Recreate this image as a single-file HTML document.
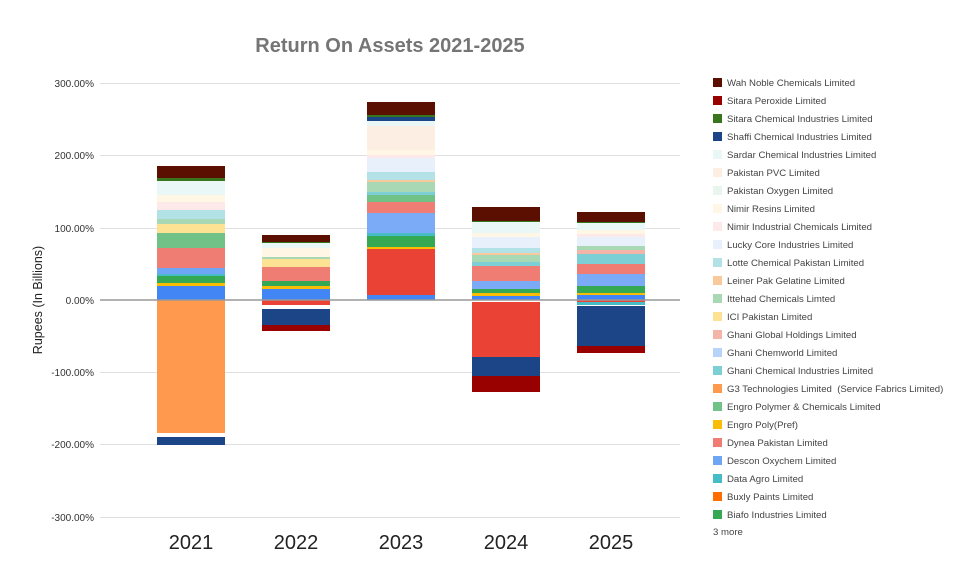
<!DOCTYPE html><html><head><meta charset="utf-8"><style>body{margin:0;background:#fff}svg{display:block}</style></head><body>
<svg width="975" height="581" xmlns="http://www.w3.org/2000/svg" font-family="Liberation Sans, Arial, sans-serif">
<text x="390" y="52" font-size="20" font-weight="bold" fill="#757575" text-anchor="middle">Return On Assets 2021-2025</text>
<g stroke="#e0e0e0" stroke-width="1">
<line x1="100" x2="680" y1="83.5" y2="83.5"/><line x1="100" x2="680" y1="155.5" y2="155.5"/><line x1="100" x2="680" y1="228.5" y2="228.5"/><line x1="100" x2="680" y1="372.5" y2="372.5"/><line x1="100" x2="680" y1="444.5" y2="444.5"/><line x1="100" x2="680" y1="517.5" y2="517.5"/></g>
<g font-size="10" fill="#333" text-anchor="end">
<text x="94" y="87">300.00%</text><text x="94" y="159">200.00%</text><text x="94" y="232">100.00%</text><text x="94" y="304">0.00%</text><text x="94" y="376">-100.00%</text><text x="94" y="448">-200.00%</text><text x="94" y="521">-300.00%</text></g>
<text transform="translate(42,300) rotate(-90)" font-size="12.5" fill="#222" text-anchor="middle">Rupees (In Billions)</text>
<g font-size="20" fill="#222" text-anchor="middle">
<text x="191" y="549">2021</text><text x="296" y="549">2022</text><text x="401" y="549">2023</text><text x="506" y="549">2024</text><text x="611" y="549">2025</text></g>
<g id="bars">
<g transform="translate(157,0)">
<rect y="166" height="12" width="68" fill="#5b0f00"/><rect y="178" height="3" width="68" fill="#38761d"/><rect y="181" height="14" width="68" fill="#eaf7f7"/><rect y="195" height="7" width="68" fill="#fff6e6"/><rect y="202" height="8" width="68" fill="#fde8ea"/><rect y="210" height="9" width="68" fill="#b3e2e6"/><rect y="219" height="5" width="68" fill="#a8d8b4"/><rect y="224" height="9" width="68" fill="#fde293"/><rect y="233" height="15" width="68" fill="#71c287"/><rect y="248" height="20" width="68" fill="#ef7d73"/><rect y="268" height="6" width="68" fill="#6fa5f5"/><rect y="274" height="2" width="68" fill="#46bdc6"/><rect y="276" height="7" width="68" fill="#34a853"/><rect y="283" height="3" width="68" fill="#fbbc04"/><rect y="286" height="14" width="68" fill="#4285f4"/><rect y="300" height="133" width="68" fill="#ff994d"/><rect y="437" height="8" width="68" fill="#1c4587"/></g>
<g transform="translate(262,0)">
<rect y="235" height="7" width="68" fill="#5b0f00"/><rect y="242" height="1" width="68" fill="#38761d"/><rect y="243" height="5" width="68" fill="#eaf7f7"/><rect y="248" height="9" width="68" fill="#fff6e6"/><rect y="257" height="2" width="68" fill="#a8d8b4"/><rect y="259" height="8" width="68" fill="#fde293"/><rect y="267" height="14" width="68" fill="#ef7d73"/><rect y="281" height="5" width="68" fill="#34a853"/><rect y="286" height="3" width="68" fill="#fbbc04"/><rect y="289" height="11" width="68" fill="#4285f4"/><rect y="300" height="5" width="68" fill="#ea4335"/><rect y="309" height="16" width="68" fill="#1c4587"/><rect y="325" height="6" width="68" fill="#990000"/></g>
<g transform="translate(367,0)">
<rect y="102" height="13" width="68" fill="#5b0f00"/><rect y="115" height="2" width="68" fill="#38761d"/><rect y="117" height="4" width="68" fill="#1c4587"/><rect y="121" height="5" width="68" fill="#eaf7f7"/><rect y="126" height="24" width="68" fill="#fdeee4"/><rect y="150" height="5" width="68" fill="#fff6e6"/><rect y="155" height="3" width="68" fill="#fde8ea"/><rect y="158" height="14" width="68" fill="#e8f0fc"/><rect y="172" height="8" width="68" fill="#b3e2e6"/><rect y="180" height="2" width="68" fill="#f9c89b"/><rect y="182" height="10" width="68" fill="#a8d8b4"/><rect y="192" height="3" width="68" fill="#7dcfd6"/><rect y="195" height="7" width="68" fill="#71c287"/><rect y="202" height="11" width="68" fill="#ef7d73"/><rect y="213" height="20" width="68" fill="#7baaf7"/><rect y="233" height="3" width="68" fill="#46bdc6"/><rect y="236" height="11" width="68" fill="#34a853"/><rect y="247" height="2" width="68" fill="#fbbc04"/><rect y="249" height="46" width="68" fill="#ea4335"/><rect y="295" height="5" width="68" fill="#4285f4"/></g>
<g transform="translate(472,0)">
<rect y="207" height="14" width="68" fill="#5b0f00"/><rect y="221" height="1" width="68" fill="#38761d"/><rect y="222" height="11" width="68" fill="#eaf7f7"/><rect y="233" height="4" width="68" fill="#fff6e6"/><rect y="237" height="11" width="68" fill="#e8f0fc"/><rect y="248" height="5" width="68" fill="#b3e2e6"/><rect y="253" height="2" width="68" fill="#f9c89b"/><rect y="255" height="7" width="68" fill="#a8d8b4"/><rect y="262" height="4" width="68" fill="#7dcfd6"/><rect y="266" height="15" width="68" fill="#ef7d73"/><rect y="281" height="8" width="68" fill="#7baaf7"/><rect y="289" height="4" width="68" fill="#34a853"/><rect y="293" height="3" width="68" fill="#fbbc04"/><rect y="296" height="4" width="68" fill="#4285f4"/><rect y="302" height="55" width="68" fill="#ea4335"/><rect y="357" height="19" width="68" fill="#1c4587"/><rect y="376" height="16" width="68" fill="#990000"/></g>
<g transform="translate(577,0)">
<rect y="212" height="10" width="68" fill="#5b0f00"/><rect y="222" height="1" width="68" fill="#38761d"/><rect y="223" height="7" width="68" fill="#eaf7f7"/><rect y="230" height="4" width="68" fill="#fff6e6"/><rect y="234" height="3" width="68" fill="#fde8ea"/><rect y="237" height="9" width="68" fill="#e8f0fc"/><rect y="246" height="4" width="68" fill="#a8d8b4"/><rect y="250" height="4" width="68" fill="#f4b4a8"/><rect y="254" height="10" width="68" fill="#7dcfd6"/><rect y="264" height="10" width="68" fill="#ef7d73"/><rect y="274" height="12" width="68" fill="#7baaf7"/><rect y="286" height="7" width="68" fill="#34a853"/><rect y="293" height="2" width="68" fill="#fbbc04"/><rect y="295" height="5" width="68" fill="#4285f4"/><rect y="300" height="2" width="68" fill="#ea4335"/><rect y="302" height="3" width="68" fill="#46bdc6"/><rect y="306" height="40" width="68" fill="#1c4587"/><rect y="346" height="7" width="68" fill="#990000"/></g>
</g>
<line x1="100" x2="680" y1="300" y2="300" stroke="#999" stroke-width="1.5"/>
<g font-size="9.6" fill="#444">
<rect x="713" y="78" width="9" height="9" fill="#5b0f00"/><text x="727" y="86">Wah Noble Chemicals Limited</text>
<rect x="713" y="96" width="9" height="9" fill="#990000"/><text x="727" y="104">Sitara Peroxide Limited</text>
<rect x="713" y="114" width="9" height="9" fill="#38761d"/><text x="727" y="122">Sitara Chemical Industries Limited</text>
<rect x="713" y="132" width="9" height="9" fill="#1c4587"/><text x="727" y="140">Shaffi Chemical Industries Limited</text>
<rect x="713" y="150" width="9" height="9" fill="#eaf7f7"/><text x="727" y="158">Sardar Chemical Industries Limited</text>
<rect x="713" y="168" width="9" height="9" fill="#fdeee4"/><text x="727" y="176">Pakistan PVC Limited</text>
<rect x="713" y="186" width="9" height="9" fill="#e8f6ee"/><text x="727" y="194">Pakistan Oxygen Limited</text>
<rect x="713" y="204" width="9" height="9" fill="#fff6e6"/><text x="727" y="212">Nimir Resins Limited</text>
<rect x="713" y="222" width="9" height="9" fill="#fde8ea"/><text x="727" y="230">Nimir Industrial Chemicals Limited</text>
<rect x="713" y="240" width="9" height="9" fill="#e8f0fc"/><text x="727" y="248">Lucky Core Industries Limited</text>
<rect x="713" y="258" width="9" height="9" fill="#b3e2e6"/><text x="727" y="266">Lotte Chemical Pakistan Limited</text>
<rect x="713" y="276" width="9" height="9" fill="#f9c89b"/><text x="727" y="284">Leiner Pak Gelatine Limited</text>
<rect x="713" y="294" width="9" height="9" fill="#a8d8b4"/><text x="727" y="302">Ittehad Chemicals Limted</text>
<rect x="713" y="312" width="9" height="9" fill="#fde293"/><text x="727" y="320">ICI Pakistan Limited</text>
<rect x="713" y="330" width="9" height="9" fill="#f4b4a8"/><text x="727" y="338">Ghani Global Holdings Limited</text>
<rect x="713" y="348" width="9" height="9" fill="#b8d3fa"/><text x="727" y="356">Ghani Chemworld Limited</text>
<rect x="713" y="366" width="9" height="9" fill="#7dcfd6"/><text x="727" y="374">Ghani Chemical Industries Limited</text>
<rect x="713" y="384" width="9" height="9" fill="#ff994d"/><text x="727" y="392" xml:space="preserve">G3 Technologies Limited  (Service Fabrics Limited)</text>
<rect x="713" y="402" width="9" height="9" fill="#71c287"/><text x="727" y="410">Engro Polymer &amp; Chemicals Limited</text>
<rect x="713" y="420" width="9" height="9" fill="#fbbc04"/><text x="727" y="428">Engro Poly(Pref)</text>
<rect x="713" y="438" width="9" height="9" fill="#ef7d73"/><text x="727" y="446">Dynea Pakistan Limited</text>
<rect x="713" y="456" width="9" height="9" fill="#6fa5f5"/><text x="727" y="464">Descon Oxychem Limited</text>
<rect x="713" y="474" width="9" height="9" fill="#46bdc6"/><text x="727" y="482">Data Agro Limited</text>
<rect x="713" y="492" width="9" height="9" fill="#ff6d01"/><text x="727" y="500">Buxly Paints Limited</text>
<rect x="713" y="510" width="9" height="9" fill="#34a853"/><text x="727" y="518">Biafo Industries Limited</text>
<text x="713" y="535">3 more</text>
</g>
</svg></body></html>
